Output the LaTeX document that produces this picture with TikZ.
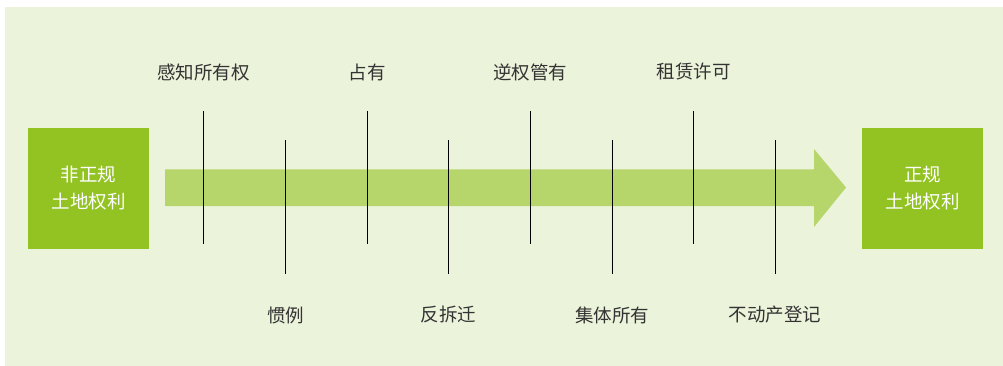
\documentclass[tikz,border=0pt]{standalone}
\usepackage{fontspec}
\setmainfont{Noto Sans CJK SC}
\begin{document}
\begin{tikzpicture}[x=1pt,y=-1pt,
  box/.style={fill=boxgreen,draw=none,minimum width=121pt,minimum height=121pt,inner sep=0pt,text=white,font=\fontsize{18.5}{27}\selectfont,align=center},
  lbl/.style={text=txtgray,font=\fontsize{18.5}{20}\selectfont,inner sep=0pt},
  tick/.style={draw=black,line width=1.3pt}]
\definecolor{bggreen}{HTML}{EBF3DA}
\definecolor{boxgreen}{HTML}{92C323}
\definecolor{arrgreen}{HTML}{B6D56B}
\definecolor{txtgray}{HTML}{333333}
\useasboundingbox (0,0) rectangle (1003,366);
\fill[bggreen] (5,7) rectangle (1003,366);
% arrow
\fill[arrgreen] (165,169.5) -- (814,169.5) -- (814,149) -- (846,187.5) -- (814,227) -- (814,206) -- (165,206) -- cycle;
% boxes
\node[box] (informal) at (88.5,188.5) {非正规\\土地权利};
\node[box] (formal) at (922.5,188.5) {正规\\土地权利};
% ticks
\foreach \n/\x/\ya/\yb in {t1/203.5/111/244, b1/285.5/140/274, t2/367.5/111/244, b2/448.5/140/274, t3/530.5/111/244, b3/612.5/140/274, t4/693.5/111/244, b4/775.5/140/274}{
  \coordinate (\n s) at (\x,\ya);
  \coordinate (\n e) at (\x,\yb);
  \draw[tick] (\n s) -- (\n e);
}
% labels
\node[lbl] (l1) at (203.5,72) {感知所有权};
\node[lbl] (l2) at (367,72) {占有};
\node[lbl] (l3) at (530,72) {逆权管有};
\node[lbl] (l4) at (693.5,72) {租赁许可};
\node[lbl] (m1) at (285.5,315) {惯例};
\node[lbl] (m2) at (448.5,315) {反拆迁};
\node[lbl] (m3) at (612,315) {集体所有};
\node[lbl] (m4) at (775,315) {不动产登记};
\end{tikzpicture}
\end{document}
